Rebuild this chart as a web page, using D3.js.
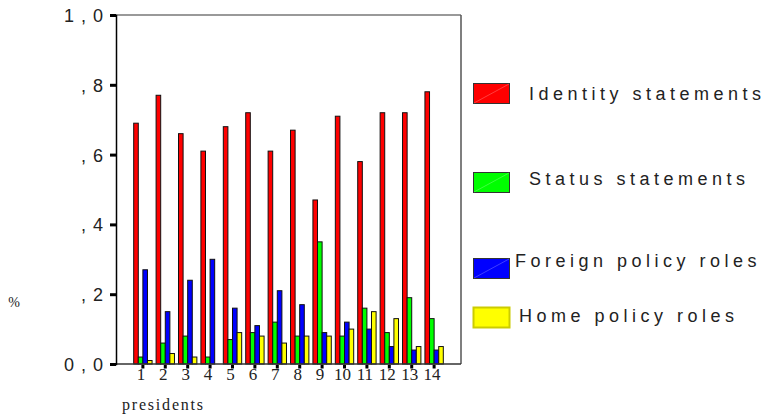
<!DOCTYPE html>
<html>
<head>
<meta charset="utf-8">
<script src="https://cdn.jsdelivr.net/npm/d3@7"></script>
<style>
  html, body { margin: 0; padding: 0; background: #fff; }
  svg { display: block; }
</style>
</head>
<body>
<svg id="chart" width="769" height="414"></svg>
<script>
const presidents = ["1","2","3","4","5","6","7","8","9","10","11","12","13","14"];
const identity = [0.69,0.77,0.66,0.61,0.68,0.72,0.61,0.67,0.47,0.71,0.58,0.72,0.72,0.78];
const status   = [0.02,0.06,0.08,0.02,0.07,0.09,0.12,0.08,0.35,0.08,0.16,0.09,0.19,0.13];
const foreign  = [0.27,0.15,0.24,0.30,0.16,0.11,0.21,0.17,0.09,0.12,0.10,0.05,0.04,0.04];
const home     = [0.01,0.03,0.02,0.00,0.09,0.08,0.06,0.08,0.08,0.10,0.15,0.13,0.05,0.05];
const seriesNames = ["Identity statements","Status statements","Foreign policy roles","Home policy roles"];
const seriesColors = ["#ff0000","#00ff00","#0000ff","#ffff00"];
const yTickValues = [0,0.2,0.4,0.6,0.8,1.0];
const yTickLabels = ["0,0",",2",",4",",6",",8","1,0"];

(function () {
const seriesValues = [identity, status, foreign, home];
const svg = d3.select("#chart");

const pLeft = 116, pRight = 461, pTop = 15, pBottom = 364;

const x = d3.scaleBand().domain(presidents).range([pLeft, pRight]).paddingInner(0.18).paddingOuter(0.79);
const xs = d3.scaleBand().domain(d3.range(4)).range([0, x.bandwidth()]);
const y = d3.scaleLinear().domain([0, 1]).range([pBottom, pTop]);

// frame (top and right)
svg.append("line").attr("x1", pLeft).attr("x2", pRight).attr("y1", pTop).attr("y2", pTop)
  .attr("stroke", "#777").attr("stroke-width", 1.5);
svg.append("line").attr("x1", pRight).attr("x2", pRight).attr("y1", pTop).attr("y2", pBottom)
  .attr("stroke", "#555").attr("stroke-width", 1.5);

// bars
const groups = svg.append("g").selectAll("g").data(presidents).join("g")
  .attr("transform", d => `translate(${x(d)},0)`);
groups.selectAll("rect").data((d, i) => seriesValues.map((s, k) => ({k, v: s[i]})))
  .join("rect")
  .filter(d => d.v > 0)
  .attr("x", d => xs(d.k))
  .attr("width", xs.bandwidth())
  .attr("y", d => y(d.v))
  .attr("height", d => y(0) - y(d.v))
  .attr("fill", d => seriesColors[d.k])
  .attr("stroke", "#111")
  .attr("stroke-width", 1);

// baseline
svg.append("line").attr("x1", pLeft).attr("x2", pRight).attr("y1", pBottom).attr("y2", pBottom)
  .attr("stroke", "#333").attr("stroke-width", 1.5);

// x tick marks
svg.append("g").selectAll("rect").data(presidents).join("rect")
  .attr("x", d => x(d) + x.bandwidth() / 2 - 1.5)
  .attr("y", pBottom + 1)
  .attr("width", 3).attr("height", 3.5)
  .attr("fill", "#000");

// x labels
svg.append("g").selectAll("text").data(presidents).join("text")
  .attr("x", d => x(d) + x.bandwidth() / 2 - 2)
  .attr("y", 380)
  .attr("text-anchor", "middle")
  .attr("font-family", "Liberation Serif, Times New Roman, serif")
  .attr("font-size", 17)
  .attr("fill", "#222")
  .text(d => d);

// y axis
const yAxis = d3.axisLeft(y).tickValues(yTickValues).tickSize(6)
  .tickFormat((d, i) => yTickLabels[i]);
const ga = svg.append("g").attr("transform", `translate(${pLeft},0)`).call(yAxis);
ga.select(".domain").attr("stroke", "#000").attr("stroke-width", 1.5);
ga.selectAll(".tick line").attr("stroke", "#000").attr("stroke-width", 3);
ga.selectAll(".tick text")
  .attr("x", -6)
  .attr("dy", "0.36em")
  .attr("font-family", "Liberation Sans, Arial, sans-serif")
  .attr("font-size", 18)
  .attr("letter-spacing", "7px")
  .attr("fill", "#222");

// axis titles
svg.append("text").attr("x", 14).attr("y", 307)
  .attr("text-anchor", "middle")
  .attr("font-family", "Liberation Serif, Times New Roman, serif")
  .attr("font-size", 14).attr("fill", "#222").text("%");
svg.append("text").attr("x", 122).attr("y", 410)
  .attr("font-family", "Liberation Serif, Times New Roman, serif")
  .attr("font-size", 16).attr("letter-spacing", "1.8px")
  .attr("fill", "#222").text("presidents");

// legend
const legendRows = [
  {sy: 83, tx: 529, ty: 100},
  {sy: 172, tx: 529, ty: 185},
  {sy: 258, tx: 515, ty: 267},
  {sy: 307, tx: 519, ty: 322}
];
const lg = svg.append("g").selectAll("g").data(seriesNames).join("g");
lg.append("rect")
  .attr("x", 473.5).attr("y", (d, i) => legendRows[i].sy + 0.5)
  .attr("width", 36).attr("height", 20)
  .attr("fill", (d, i) => seriesColors[i])
  .attr("stroke", (d, i) => i === 3 ? "#cccc00" : "#333")
  .attr("stroke-width", (d, i) => i === 3 ? 2 : 1);
lg.filter((d, i) => i < 3).append("line")
  .attr("x1", 474).attr("x2", 509)
  .attr("y1", (d, i) => legendRows[i].sy + 20)
  .attr("y2", (d, i) => legendRows[i].sy + 1)
  .attr("stroke", "#ffffff").attr("stroke-opacity", 0.35).attr("stroke-width", 0.7);
lg.append("text")
  .attr("x", (d, i) => legendRows[i].tx)
  .attr("y", (d, i) => legendRows[i].ty)
  .attr("font-family", "Liberation Sans, Arial, sans-serif")
  .attr("font-size", 18)
  .attr("letter-spacing", "4.5px")
  .attr("fill", "#222")
  .text(d => d);
})();
</script>
</body>
</html>
